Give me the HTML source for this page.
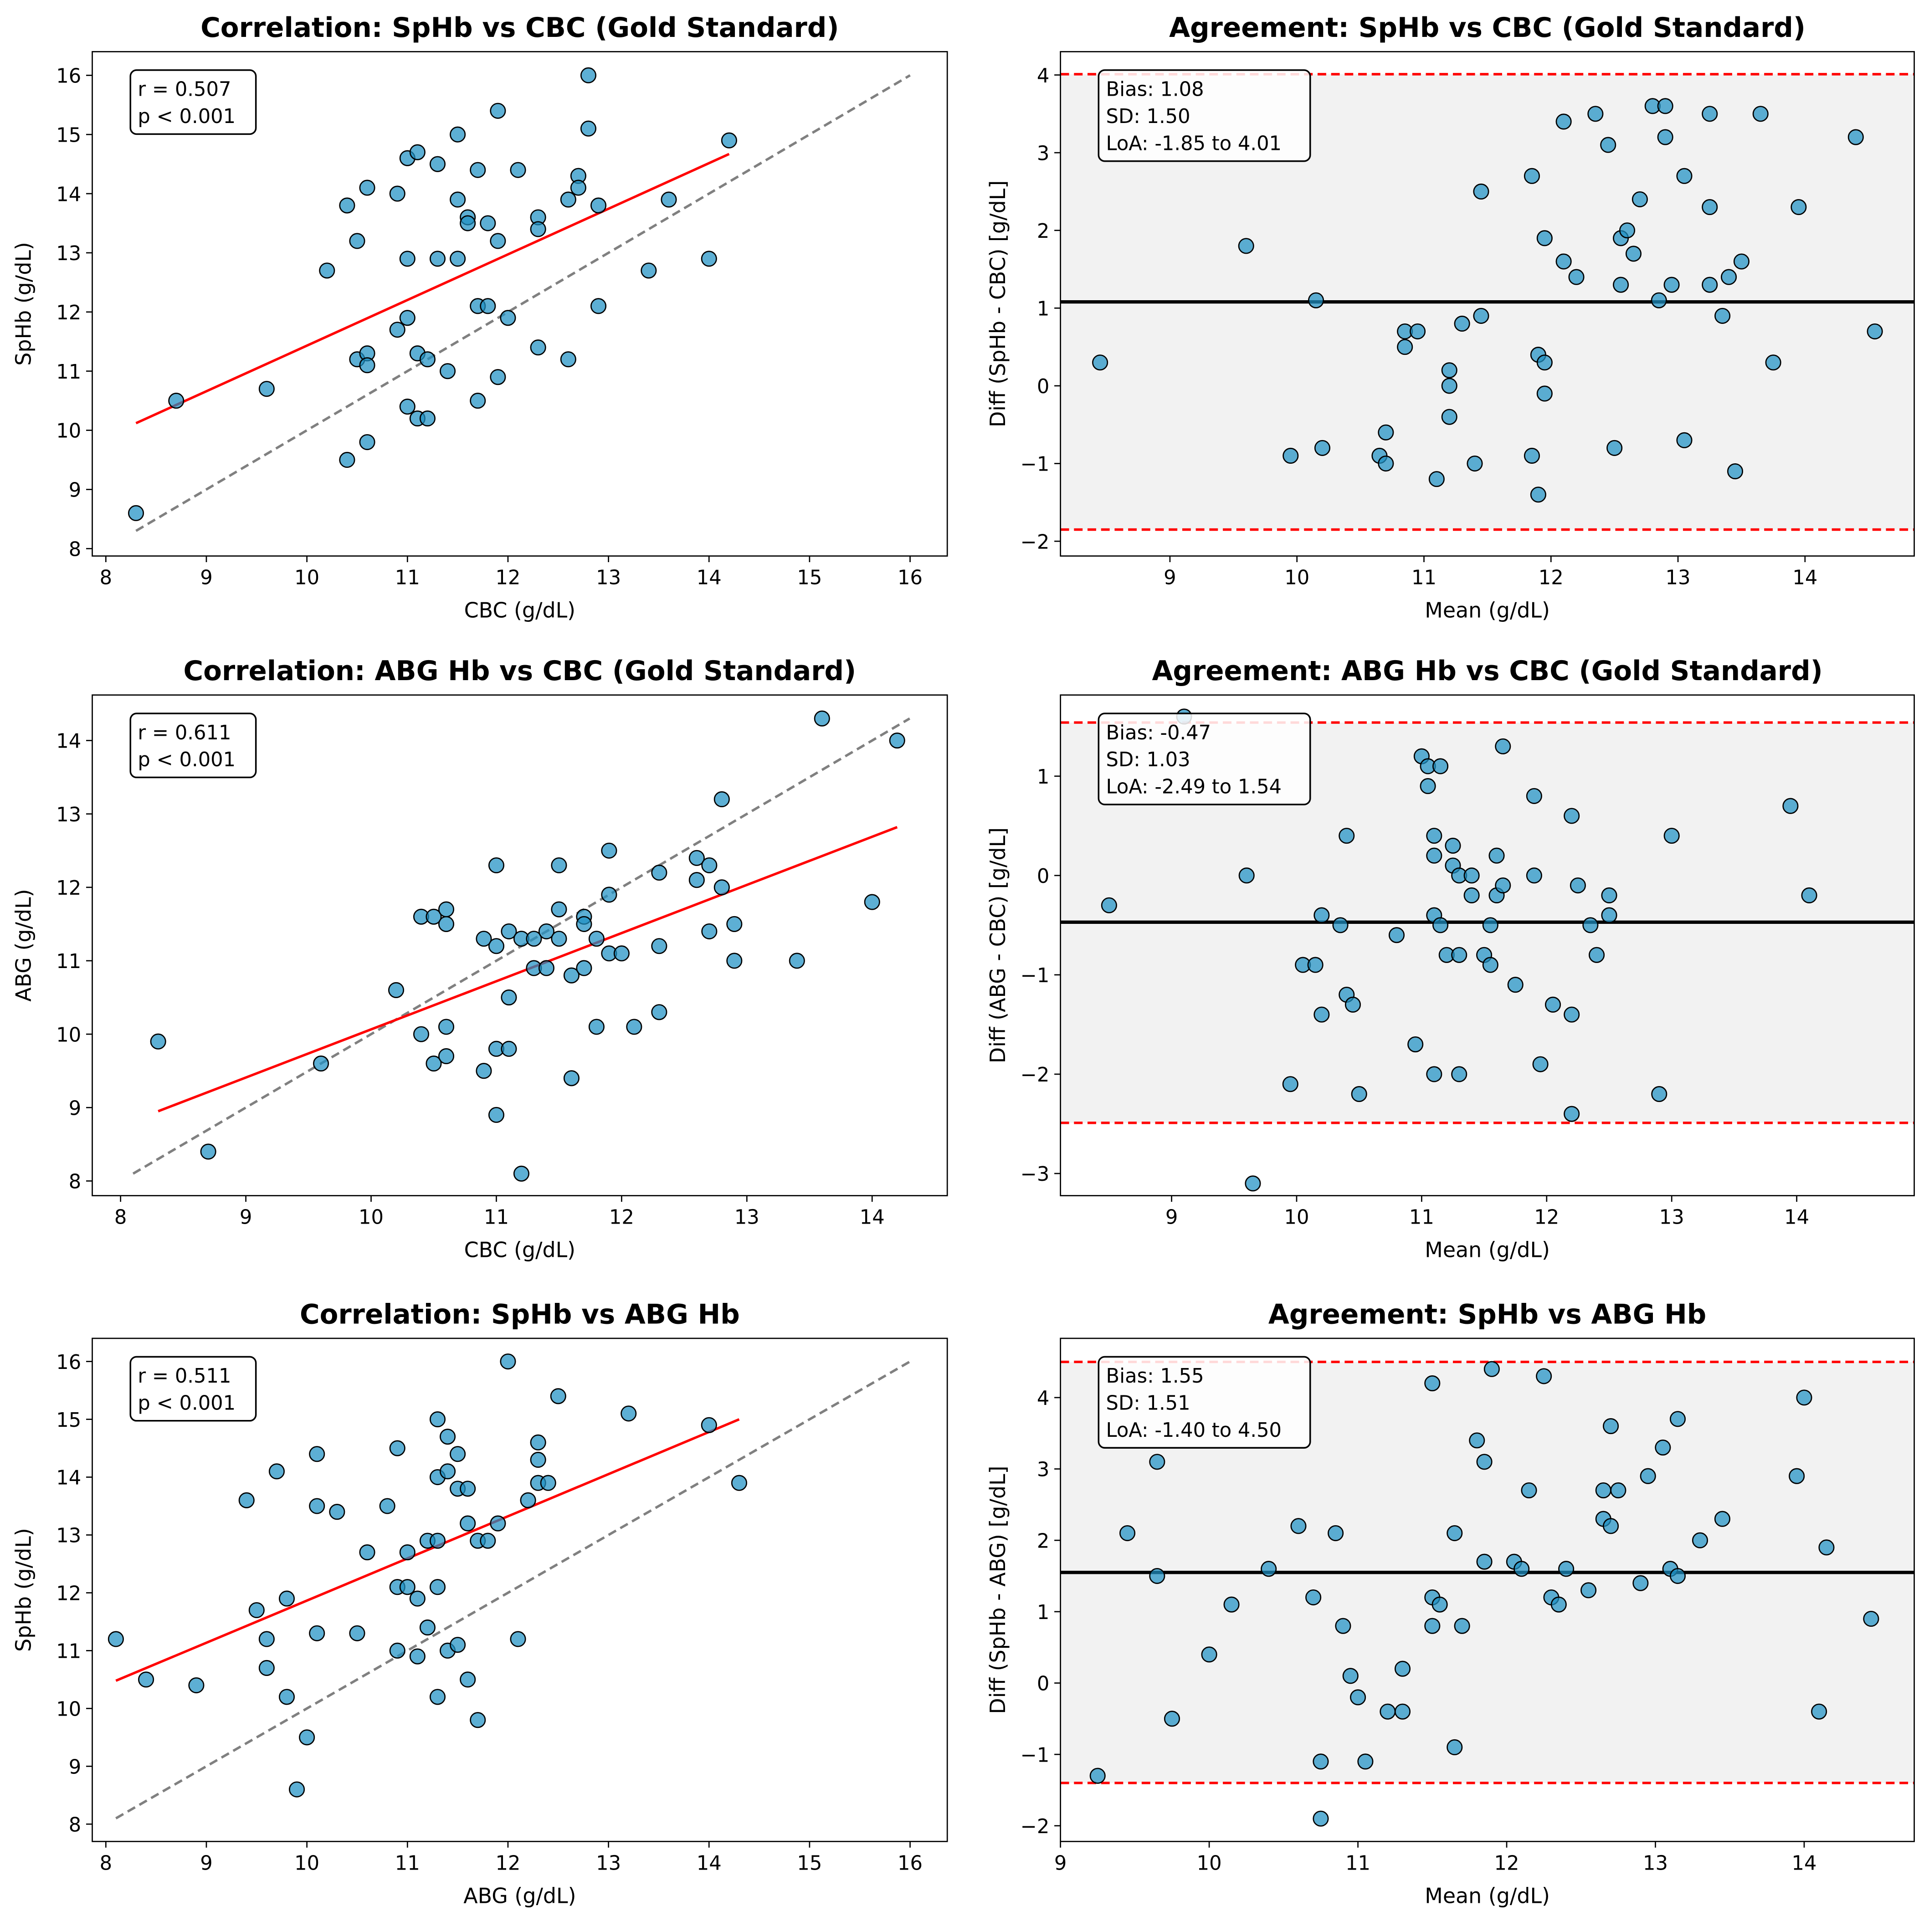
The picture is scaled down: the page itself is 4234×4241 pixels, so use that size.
<!DOCTYPE html>
<html><head><meta charset="utf-8"><style>
html,body{margin:0;padding:0;background:#fff}
svg{display:block}
text{font-family:"DejaVu Sans","Liberation Sans",sans-serif;fill:#000}
</style></head><body>
<svg id="fig" width="4234" height="4241" viewBox="0 0 1568 1570.6" xmlns="http://www.w3.org/2000/svg"></svg>
<script>
// ---- data ----
const p1x=[8.3,8.7,9.6,10.2,10.4,10.4,10.5,10.5,10.6,10.6,10.6,10.6,10.9,10.9,11.0,11.0,11.0,11.0,11.1,11.1,11.1,11.2,11.2,11.3,11.3,11.4,11.5,11.5,11.5,11.6,11.6,11.7,11.7,11.7,11.8,11.8,11.9,11.9,11.9,12.0,12.1,12.3,12.3,12.3,12.6,12.6,12.7,12.7,12.8,12.8,12.9,12.9,13.4,13.6,14.0,14.2];
const p1y=[8.6,10.5,10.7,12.7,13.8,9.5,13.2,11.2,14.1,11.3,11.1,9.8,14.0,11.7,14.6,12.9,11.9,10.4,14.7,11.3,10.2,11.2,10.2,14.5,12.9,11.0,15.0,13.9,12.9,13.6,13.5,14.4,12.1,10.5,13.5,12.1,15.4,13.2,10.9,11.9,14.4,13.6,13.4,11.4,13.9,11.2,14.3,14.1,16.0,15.1,13.8,12.1,12.7,13.9,12.9,14.9];
const p1fit=[[8.3,10.12],[14.2,14.67]];
const p2m=[8.45,9.6,9.95,10.15,10.2,10.65,10.7,10.7,10.85,10.85,10.95,11.1,11.2,11.2,11.2,11.3,11.4,11.45,11.45,11.85,11.85,11.9,11.9,11.95,11.95,11.95,12.1,12.1,12.2,12.35,12.45,12.5,12.55,12.55,12.6,12.65,12.7,12.8,12.85,12.9,12.9,12.95,13.05,13.05,13.25,13.25,13.25,13.35,13.4,13.45,13.5,13.65,13.75,13.95,14.4,14.55];
const p2d=[0.3,1.8,-0.9,1.1,-0.8,-0.9,-0.6,-1.0,0.7,0.5,0.7,-1.2,0.2,0.0,-0.4,0.8,-1.0,0.9,2.5,2.7,-0.9,0.4,-1.4,0.3,-0.1,1.9,3.4,1.6,1.4,3.5,3.1,-0.8,1.3,1.9,2.0,1.7,2.4,3.6,1.1,3.6,3.2,1.3,2.7,-0.7,3.5,2.3,1.3,0.9,1.4,-1.1,1.6,3.5,0.3,2.3,3.2,0.7];
const p2stats=[1.08,-1.85,4.01];
const p3x=[8.3,8.7,9.6,10.2,10.4,10.4,10.5,10.5,10.6,10.6,10.6,10.6,10.9,10.9,11.0,11.0,11.0,11.0,11.1,11.1,11.1,11.2,11.2,11.3,11.3,11.4,11.4,11.5,11.5,11.5,11.6,11.6,11.7,11.7,11.7,11.8,11.8,11.9,11.9,11.9,12.0,12.1,12.3,12.3,12.3,12.6,12.6,12.7,12.7,12.8,12.8,12.9,12.9,13.4,13.6,14.0,14.2];
const p3y=[9.9,8.4,9.6,10.6,11.6,10.0,11.6,9.6,11.7,11.5,10.1,9.7,11.3,9.5,12.3,11.2,9.8,8.9,11.4,10.5,9.8,11.3,8.1,11.3,10.9,11.4,10.9,12.3,11.7,11.3,10.8,9.4,11.6,11.5,10.9,11.3,10.1,12.5,11.9,11.1,11.1,10.1,12.2,11.2,10.3,12.4,12.1,12.3,11.4,13.2,12.0,11.5,11.0,11.0,14.3,11.8,14.0];
const p3fit=[[8.3,8.95],[14.2,12.82]];
const p4m=[8.5,9.1,9.6,9.65,9.95,10.05,10.15,10.2,10.2,10.35,10.4,10.4,10.45,10.5,10.8,10.95,11.0,11.05,11.05,11.1,11.1,11.1,11.1,11.15,11.15,11.2,11.25,11.25,11.3,11.3,11.3,11.4,11.4,11.5,11.55,11.55,11.6,11.6,11.65,11.65,11.75,11.9,11.9,11.95,12.05,12.2,12.2,12.2,12.25,12.35,12.4,12.5,12.5,12.9,13.0,13.95,14.1];
const p4d=[-0.3,1.6,0.0,-3.1,-2.1,-0.9,-0.9,-0.4,-1.4,-0.5,0.4,-1.2,-1.3,-2.2,-0.6,-1.7,1.2,1.1,0.9,0.4,0.2,-0.4,-2.0,1.1,-0.5,-0.8,0.3,0.1,0.0,-0.8,-2.0,0.0,-0.2,-0.8,-0.5,-0.9,0.2,-0.2,1.3,-0.1,-1.1,0.8,0.0,-1.9,-1.3,0.6,-1.4,-2.4,-0.1,-0.5,-0.8,-0.2,-0.4,-2.2,0.4,0.7,-0.2];
const p4stats=[-0.47,-2.49,1.54];
const p5x=[8.1,8.4,8.9,9.4,9.5,9.6,9.6,9.7,9.8,9.8,9.9,10.0,10.1,10.1,10.1,10.3,10.5,10.6,10.8,10.9,10.9,10.9,11.0,11.0,11.1,11.1,11.2,11.2,11.3,11.3,11.3,11.3,11.3,11.4,11.4,11.4,11.5,11.5,11.5,11.6,11.6,11.6,11.7,11.7,11.8,11.9,12.0,12.1,12.2,12.3,12.3,12.3,12.4,12.5,13.2,14.0,14.3];
const p5y=[11.2,10.5,10.4,13.6,11.7,11.2,10.7,14.1,11.9,10.2,8.6,9.5,14.4,13.5,11.3,13.4,11.3,12.7,13.5,14.5,12.1,11.0,12.7,12.1,11.9,10.9,12.9,11.4,15.0,14.0,12.9,12.1,10.2,14.7,14.1,11.0,14.4,13.8,11.1,13.8,13.2,10.5,12.9,9.8,12.9,13.2,16.0,11.2,13.6,14.6,14.3,13.9,13.9,15.4,15.1,14.9,13.9];
const p5fit=[[8.1,10.48],[14.3,15.0]];
const p6m=[9.25,9.45,9.65,9.65,9.75,10.0,10.15,10.4,10.6,10.7,10.75,10.75,10.85,10.9,10.95,11.0,11.05,11.2,11.3,11.3,11.5,11.5,11.5,11.55,11.65,11.65,11.7,11.8,11.85,11.85,11.9,12.05,12.1,12.15,12.25,12.3,12.35,12.4,12.55,12.65,12.65,12.7,12.7,12.75,12.9,12.95,13.05,13.1,13.15,13.15,13.3,13.45,13.95,14.0,14.1,14.15,14.45];
const p6d=[-1.3,2.1,3.1,1.5,-0.5,0.4,1.1,1.6,2.2,1.2,-1.1,-1.9,2.1,0.8,0.1,-0.2,-1.1,-0.4,0.2,-0.4,4.2,1.2,0.8,1.1,2.1,-0.9,0.8,3.4,3.1,1.7,4.4,1.7,1.6,2.7,4.3,1.2,1.1,1.6,1.3,2.7,2.3,3.6,2.2,2.7,1.4,2.9,3.3,1.6,1.5,3.7,2.0,2.3,2.9,4.0,-0.4,1.9,0.9];
const p6stats=[1.55,-1.40,4.50];
const ticks16=[8,9,10,11,12,13,14,15,16];
const ticks9_14=[9,10,11,12,13,14];
const ticks8_14=[8,9,10,11,12,13,14];
const ticksD1=[-2,-1,0,1,2,3,4];
const ticksD2=[-3,-2,-1,0,1];

const NS="http://www.w3.org/2000/svg";
const fig=document.getElementById('fig');
function el(tag,attrs,parent){const e=document.createElementNS(NS,tag);for(const k in attrs)e.setAttribute(k,attrs[k]);(parent||fig).appendChild(e);return e;}
function txt(s,attrs,parent){const t=el('text',attrs,parent);t.textContent=s;return t;}

function panel(cfg){
  const g=el('g',{});
  
  
  const L=cfg.box[0],R=cfg.box[1],T=cfg.box[2],B=cfg.box[3];
  const sx=v=>L+(v-cfg.xl[0])/(cfg.xl[1]-cfg.xl[0])*(R-L);
  const sy=v=>B-(v-cfg.yl[0])/(cfg.yl[1]-cfg.yl[0])*(B-T);
  if(cfg.ba){
    const bg=el('rect',{x:L,y:sy(cfg.ba[2]),width:R-L,height:sy(cfg.ba[1])-sy(cfg.ba[2]),fill:'#f2f2f2'},g);
    
    
  }
  // ticks
  cfg.xt.forEach(v=>{const x=sx(v);el('line',{x1:x,x2:x,y1:B,y2:B+5,stroke:'#000','stroke-width':1},g);
    const t=txt(String(v),{x:x,y:B+23,'font-size':16,'text-anchor':'middle'},g);
    
    });
  cfg.yt.forEach(v=>{const y=sy(v);el('line',{x1:L-5,x2:L,y1:y,y2:y,stroke:'#000','stroke-width':1},g);
    const t=txt(v<0?'\u2212'+(-v):String(v),{x:L-9,y:y+6,'font-size':16,'text-anchor':'end'},g);
    
    });
  if(cfg.ba){
    [cfg.ba[1],cfg.ba[2]].forEach(v=>{const l=el('line',{x1:L,x2:R,y1:sy(v),y2:sy(v),stroke:'#ff0000','stroke-width':2,'stroke-dasharray':'7,4'},g);
      
      });
    const bl=el('line',{x1:L,x2:R,y1:sy(cfg.ba[0]),y2:sy(cfg.ba[0]),stroke:'#000','stroke-width':2.7},g);
    
    
  } else {
    const id=el('line',{x1:sx(cfg.id[0]),y1:sy(cfg.id[0]),x2:sx(cfg.id[1]),y2:sy(cfg.id[1]),stroke:'#808080','stroke-width':2,'stroke-dasharray':'7,4'},g);
    
    
    const f=el('line',{x1:sx(cfg.fit[0][0]),y1:sy(cfg.fit[0][1]),x2:sx(cfg.fit[1][0]),y2:sy(cfg.fit[1][1]),stroke:'#ff0000','stroke-width':2},g);
    
    
  }
  cfg.px.forEach((v,i)=>{const c=el('circle',{cx:sx(v),cy:sy(cfg.py[i]),r:6,fill:'rgba(31,144,196,0.72)',stroke:'#000','stroke-width':1},g);
    
    });
  const fr=el('rect',{x:L,y:T,width:R-L,height:B-T,fill:'none',stroke:'#000','stroke-width':1},g);
  
  
  // annotation box
  const lines=cfg.note;
  const bw=cfg.ba?172:102, bh=lines.length*22+8;
  const bx=L+31, by=T+15;
  const nb=el('rect',{x:bx,y:by,width:bw,height:bh,rx:5,fill:'rgba(255,255,255,0.85)',stroke:'#000','stroke-width':1.3},g);
  
  
  lines.forEach((s,i)=>{const t=txt(s,{x:bx+6,y:by+21+i*22,'font-size':16},g);
    
    });
  const tt=txt(cfg.title,{x:(L+R)/2,y:T-12,'font-size':22,'font-weight':'bold','text-anchor':'middle'},g);
  
  
  const xl=txt(cfg.xlab,{x:(L+R)/2,y:B+50,'font-size':17,'text-anchor':'middle'},g);
  
  
  const yx=L-(cfg.ba?45:50), yy=(T+B)/2;
  const yl=txt(cfg.ylab,{x:yx,y:yy,'font-size':17,'text-anchor':'middle',transform:`rotate(-90 ${yx} ${yy})`},g);
  
  
}
function fmt(v){return v.toFixed(2);}
panel({name:'correlation-sphb-cbc',box:[75,770,42,452],xl:[7.865,16.37],yl:[7.875,16.4],xt:ticks16,yt:ticks16,px:p1x,py:p1y,fit:p1fit,id:[8.3,16],
  note:['r = 0.507','p < 0.001'],title:'Correlation: SpHb vs CBC (Gold Standard)',xlab:'CBC (g/dL)',ylab:'SpHb (g/dL)'});
panel({name:'agreement-sphb-cbc',box:[862,1556,42,452],xl:[8.138,14.86],yl:[-2.19,4.30],xt:ticks9_14,yt:ticksD1,px:p2m,py:p2d,ba:p2stats,
  note:['Bias: '+fmt(p2stats[0]),'SD: 1.50','LoA: '+fmt(p2stats[1])+' to '+fmt(p2stats[2])],title:'Agreement: SpHb vs CBC (Gold Standard)',xlab:'Mean (g/dL)',ylab:'Diff (SpHb - CBC) [g/dL]'});
panel({name:'correlation-abg-cbc',box:[75,770,565,972],xl:[7.774,14.6],yl:[7.8,14.62],xt:ticks8_14,yt:ticks8_14,px:p3x,py:p3y,fit:p3fit,id:[8.1,14.3],
  note:['r = 0.611','p < 0.001'],title:'Correlation: ABG Hb vs CBC (Gold Standard)',xlab:'CBC (g/dL)',ylab:'ABG (g/dL)'});
panel({name:'agreement-abg-cbc',box:[862,1556,565,972],xl:[8.111,14.94],yl:[-3.223,1.817],xt:ticks9_14,yt:ticksD2,px:p4m,py:p4d,ba:p4stats,
  note:['Bias: '+fmt(p4stats[0]),'SD: 1.03','LoA: '+fmt(p4stats[1])+' to '+fmt(p4stats[2])],title:'Agreement: ABG Hb vs CBC (Gold Standard)',xlab:'Mean (g/dL)',ylab:'Diff (ABG - CBC) [g/dL]'});
panel({name:'correlation-sphb-abg',box:[75,770,1088,1497],xl:[7.865,16.37],yl:[7.70,16.40],xt:ticks16,yt:ticks16,px:p5x,py:p5y,fit:p5fit,id:[8.1,16],
  note:['r = 0.511','p < 0.001'],title:'Correlation: SpHb vs ABG Hb',xlab:'ABG (g/dL)',ylab:'SpHb (g/dL)'});
panel({name:'agreement-sphb-abg',box:[862,1556,1088,1497],xl:[9,14.74],yl:[-2.22,4.83],xt:ticks9_14,yt:ticksD1,px:p6m,py:p6d,ba:p6stats,
  note:['Bias: '+fmt(p6stats[0]),'SD: 1.51','LoA: '+fmt(p6stats[1])+' to '+fmt(p6stats[2])],title:'Agreement: SpHb vs ABG Hb',xlab:'Mean (g/dL)',ylab:'Diff (SpHb - ABG) [g/dL]'});
</script>
</body></html>
